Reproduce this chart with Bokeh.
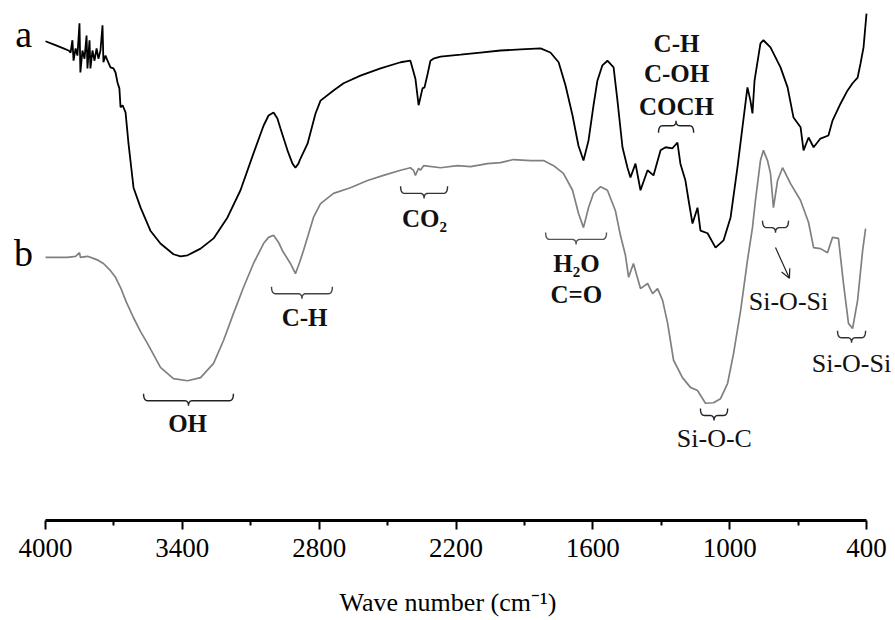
import numpy as np
from bokeh.plotting import figure
from bokeh.models import Range1d, LinearAxis, FixedTicker, Arrow, OpenHead
from bokeh.core.properties import value
from bokeh.embed import file_html
from bokeh.resources import INLINE

# ---------------- data (wavenumber in cm-1, transmittance in a.u.) ----------------
wn_a = [4000, 3965, 3921, 3899, 3890, 3882, 3877, 3868, 3860, 3851, 3847, 3838, 3829, 3820,
        3816, 3807, 3803, 3794, 3785, 3776, 3768, 3759, 3750, 3746, 3737, 3728, 3715, 3702,
        3693, 3684, 3676, 3671, 3662, 3649, 3636, 3614, 3583, 3540, 3496, 3439, 3408, 3377,
        3320, 3263, 3202, 3145, 3088, 3044, 3022, 3000, 2983, 2970, 2939, 2917, 2904, 2891,
        2882, 2851, 2816, 2794, 2737, 2693, 2619, 2531, 2443, 2400, 2378, 2369, 2364, 2356,
        2347, 2338, 2325, 2312, 2299, 2268, 2180, 2093, 2005, 1917, 1829, 1786, 1750, 1720,
        1689, 1663, 1641, 1619, 1597, 1580, 1558, 1536, 1509, 1492, 1470, 1448, 1435, 1413,
        1391, 1360, 1334, 1303, 1281, 1251, 1229, 1216, 1194, 1180, 1163, 1141, 1128, 1097,
        1062, 1027, 996, 966, 944, 922, 909, 900, 891, 865, 852, 821, 777, 746, 720, 689,
        676, 654, 632, 602, 567, 549, 514, 483, 461, 439, 426, 413, 400]
tr_a = [93.6, 93.0, 92.2, 91.8, 91.4, 93.8, 89.8, 92.2, 90.8, 97.1, 87.5, 91.8, 90.2, 94.7,
        88.3, 93.8, 88.3, 91.8, 89.8, 92.2, 90.2, 91.8, 96.7, 89.5, 90.8, 89.8, 88.5, 88.3,
        87.5, 85.5, 84.4, 80.7, 81.1, 79.7, 73.6, 65.0, 61.1, 56.6, 54.1, 52.0, 51.6, 51.8,
        53.1, 55.1, 59.2, 64.5, 71.7, 77.1, 79.1, 79.7, 78.5, 76.6, 72.3, 69.7, 68.9, 69.7,
        70.7, 73.6, 79.5, 82.0, 84.0, 85.4, 86.9, 88.3, 89.5, 89.8, 86.3, 83.0, 81.1, 82.6,
        84.4, 84.6, 87.1, 89.8, 90.2, 90.6, 91.0, 91.4, 91.8, 92.0, 92.2, 91.4, 89.5, 85.0,
        79.1, 73.2, 70.3, 74.2, 81.1, 85.9, 88.9, 89.8, 88.5, 82.0, 72.9, 68.9, 67.0, 69.7,
        64.5, 68.4, 67.4, 72.3, 72.9, 72.7, 73.8, 69.7, 66.4, 62.5, 58.0, 61.1, 56.6, 56.1,
        53.3, 54.7, 59.2, 68.9, 76.8, 84.6, 82.0, 79.5, 85.9, 93.2, 93.8, 92.4, 88.5, 84.6,
        78.7, 76.8, 72.3, 74.8, 72.9, 74.6, 75.2, 78.1, 81.4, 84.0, 85.4, 86.5, 89.3, 92.4, 99.0]

wn_b = [4000, 3956, 3904, 3868, 3851, 3847, 3816, 3790, 3768, 3746, 3715, 3693, 3671, 3645,
        3614, 3583, 3553, 3496, 3439, 3377, 3320, 3263, 3219, 3176, 3132, 3088, 3044, 3022,
        3000, 2978, 2961, 2926, 2904, 2886, 2869, 2851, 2825, 2794, 2737, 2663, 2588, 2518,
        2443, 2400, 2386, 2378, 2364, 2356, 2342, 2268, 2193, 2136, 2062, 2005, 1948, 1873,
        1816, 1772, 1729, 1689, 1663, 1641, 1619, 1597, 1566, 1536, 1501, 1479, 1457, 1443,
        1422, 1391, 1360, 1338, 1316, 1294, 1272, 1246, 1207, 1172, 1141, 1106, 1071, 1040,
        1009, 983, 952, 922, 900, 887, 865, 852, 834, 821, 808, 790, 768, 733, 689, 654, 632,
        602, 571, 549, 523, 501, 479, 461, 439, 417, 404]
tr_b = [51.4, 51.4, 51.4, 51.6, 52.3, 51.4, 51.6, 51.2, 50.8, 50.2, 48.8, 47.5, 45.5, 42.6,
        39.6, 36.9, 34.6, 29.9, 27.7, 27.3, 27.9, 30.7, 35.2, 40.4, 45.5, 50.2, 54.1, 55.3,
        55.7, 54.3, 52.7, 50.2, 48.2, 50.4, 52.7, 55.3, 59.2, 61.9, 63.9, 65.0, 66.4, 67.4,
        68.4, 68.9, 68.4, 67.4, 68.8, 68.4, 69.3, 68.9, 69.3, 69.1, 69.7, 69.9, 70.5, 70.3,
        70.3, 69.3, 67.8, 64.5, 60.0, 57.2, 61.1, 63.9, 65.2, 64.5, 60.5, 55.7, 51.8, 47.5,
        50.2, 45.3, 46.3, 44.3, 45.3, 43.0, 38.5, 31.3, 27.9, 26.0, 25.4, 22.9, 23.0, 23.8,
        26.8, 32.6, 41.0, 50.8, 57.2, 62.5, 70.3, 72.3, 70.3, 67.8, 61.1, 66.4, 68.9, 65.8,
        62.5, 58.2, 53.3, 53.1, 52.3, 55.3, 55.1, 46.3, 38.5, 37.5, 43.0, 52.7, 57.0]

major_ticks = [4000, 3400, 2800, 2200, 1600, 1000, 400]
minor_ticks = [3700, 3100, 2500, 1900, 1300, 700]

# curve labels
curve_names = ["a", "b"]
curve_name_wn = [4096, 4096]
curve_name_tr = [92.4, 49.8]

# band assignments: brace from wn_hi to wn_lo at level tr, +1 = under-brace, -1 = over-brace
brace_hi = [3570, 3009, 2443, 1807, 1128, 856, 527, 1312]
brace_lo = [3176, 2742, 2237, 1540, 1009, 742, 404, 1158]
brace_tr = [23.4, 44.3, 63.9, 54.9, 20.5, 57.2, 35.7, 77.1]
brace_dir = [1, 1, 1, 1, 1, 1, 1, -1]
brace_col = ["#222222", "#444444", "#333333", "#555555", "#222222", "#333333", "#333333", "#222222"]

bold_labels = ["OH", "C-H", "CO\u2082", "H\u2082O", "C=O", "C-H", "C-OH", "COCH"]
bold_wn = [3377, 2864, 2338, 1672, 1672, 1233, 1233, 1233]
bold_tr = [17.2, 37.9, 57.2, 48.4, 42.4, 91.4, 85.5, 79.1]

reg_labels = ["Si-O-C", "Si-O-Si", "Si-O-Si"]
reg_wn = [1067, 742, 466]
reg_tr = [14.3, 41.0, 28.9]

arrow_from = (799, 53.3)
arrow_to = (738, 47.3)

# ---------------- figure ----------------
W, H = 895, 620
FRAME_H = 520
PXW = 3600.0 / 821.0          # wavenumber per pixel
X0 = 4000 + 45 * PXW
X1 = 400 - (W - 866) * PXW
Y0, Y1 = 0.0, FRAME_H / 5.12
PXT = (Y1 - Y0) / FRAME_H      # transmittance per pixel

p = figure(width=W, height=H, output_backend="svg", toolbar_location=None,
           x_range=Range1d(X0, X1), y_range=Range1d(Y0, Y1),
           x_axis_type=None, y_axis_type=None,
           min_border_left=0, min_border_right=0, min_border_top=0,
           min_border_bottom=H - FRAME_H)
p.outline_line_color = None
p.xgrid.visible = False
p.ygrid.visible = False
p.background_fill_color = "white"
p.border_fill_color = "white"

ax = LinearAxis(ticker=FixedTicker(ticks=major_ticks, minor_ticks=minor_ticks),
                bounds=(400, 4000))
ax.axis_line_width = 3
ax.axis_line_color = "black"
ax.major_tick_line_width = 2
ax.minor_tick_line_width = 2
ax.major_tick_in = 0
ax.major_tick_out = 9
ax.minor_tick_in = 0
ax.minor_tick_out = 5
ax.major_label_text_font = "Liberation Serif"
ax.major_label_text_font_size = "27px"
ax.major_label_text_color = "black"
ax.major_label_standoff = 9
ax.axis_label = "Wave number (cm\u207b\u00b9)"
ax.axis_label_text_font = "Liberation Serif"
ax.axis_label_text_font_size = "26px"
ax.axis_label_text_font_style = "normal"
ax.axis_label_text_color = "black"
ax.axis_label_standoff = 28
p.add_layout(ax, "below")

p.line(wn_b, tr_b, line_color="#808080", line_width=1.7)
p.line(wn_a, tr_a, line_color="black", line_width=1.8)


def brace(w_hi, w_lo, t, d, h=7.0, tip=5.0, r=4.0):
    L = (w_hi - w_lo) / PXW
    def quad(p0, c, p1, n=8):
        s = np.linspace(0, 1, n)
        u = (1 - s) ** 2 * p0[0] + 2 * (1 - s) * s * c[0] + s ** 2 * p1[0]
        v = (1 - s) ** 2 * p0[1] + 2 * (1 - s) * s * c[1] + s ** 2 * p1[1]
        return list(u), list(v)
    us, vs = [], []
    for seg in [quad((0, d * h), (0, 0), (r, 0)),
                quad((L / 2 - r, 0), (L / 2, 0), (L / 2, -d * tip)),
                quad((L / 2, -d * tip), (L / 2, 0), (L / 2 + r, 0)),
                quad((L - r, 0), (L, 0), (L, d * h))]:
        us += seg[0]
        vs += seg[1]
    xs = [w_hi - u * PXW for u in us]
    ys = [t + v * PXT for v in vs]
    return xs, ys


bx, by = [], []
for i in range(len(brace_hi)):
    xs, ys = brace(brace_hi[i], brace_lo[i], brace_tr[i], brace_dir[i])
    bx.append(xs)
    by.append(ys)
p.multi_line(bx, by, line_color=brace_col, line_width=1.4)

p.add_layout(Arrow(x_start=arrow_from[0], y_start=arrow_from[1],
                   x_end=arrow_to[0], y_end=arrow_to[1],
                   line_color="#222222", line_width=1.2,
                   end=OpenHead(size=9, line_width=1.2, line_color="#222222")))

p.text(x=curve_name_wn, y=curve_name_tr, text=curve_names, y_offset=-13,
       text_font=value("Liberation Serif"), text_font_size="38px",
       text_align="center", text_baseline="alphabetic", text_color="black")
p.text(x=bold_wn, y=bold_tr, text=bold_labels, y_offset=-9,
       text_font=value("Liberation Serif"), text_font_size="25px", text_font_style="bold",
       text_align="center", text_baseline="alphabetic", text_color="#111111")
p.text(x=reg_wn, y=reg_tr, text=reg_labels, y_offset=-9,
       text_font=value("Liberation Serif"), text_font_size="26px",
       text_align="center", text_baseline="alphabetic", text_color="#111111")

open("out.html", "w").write(file_html(p, INLINE))
